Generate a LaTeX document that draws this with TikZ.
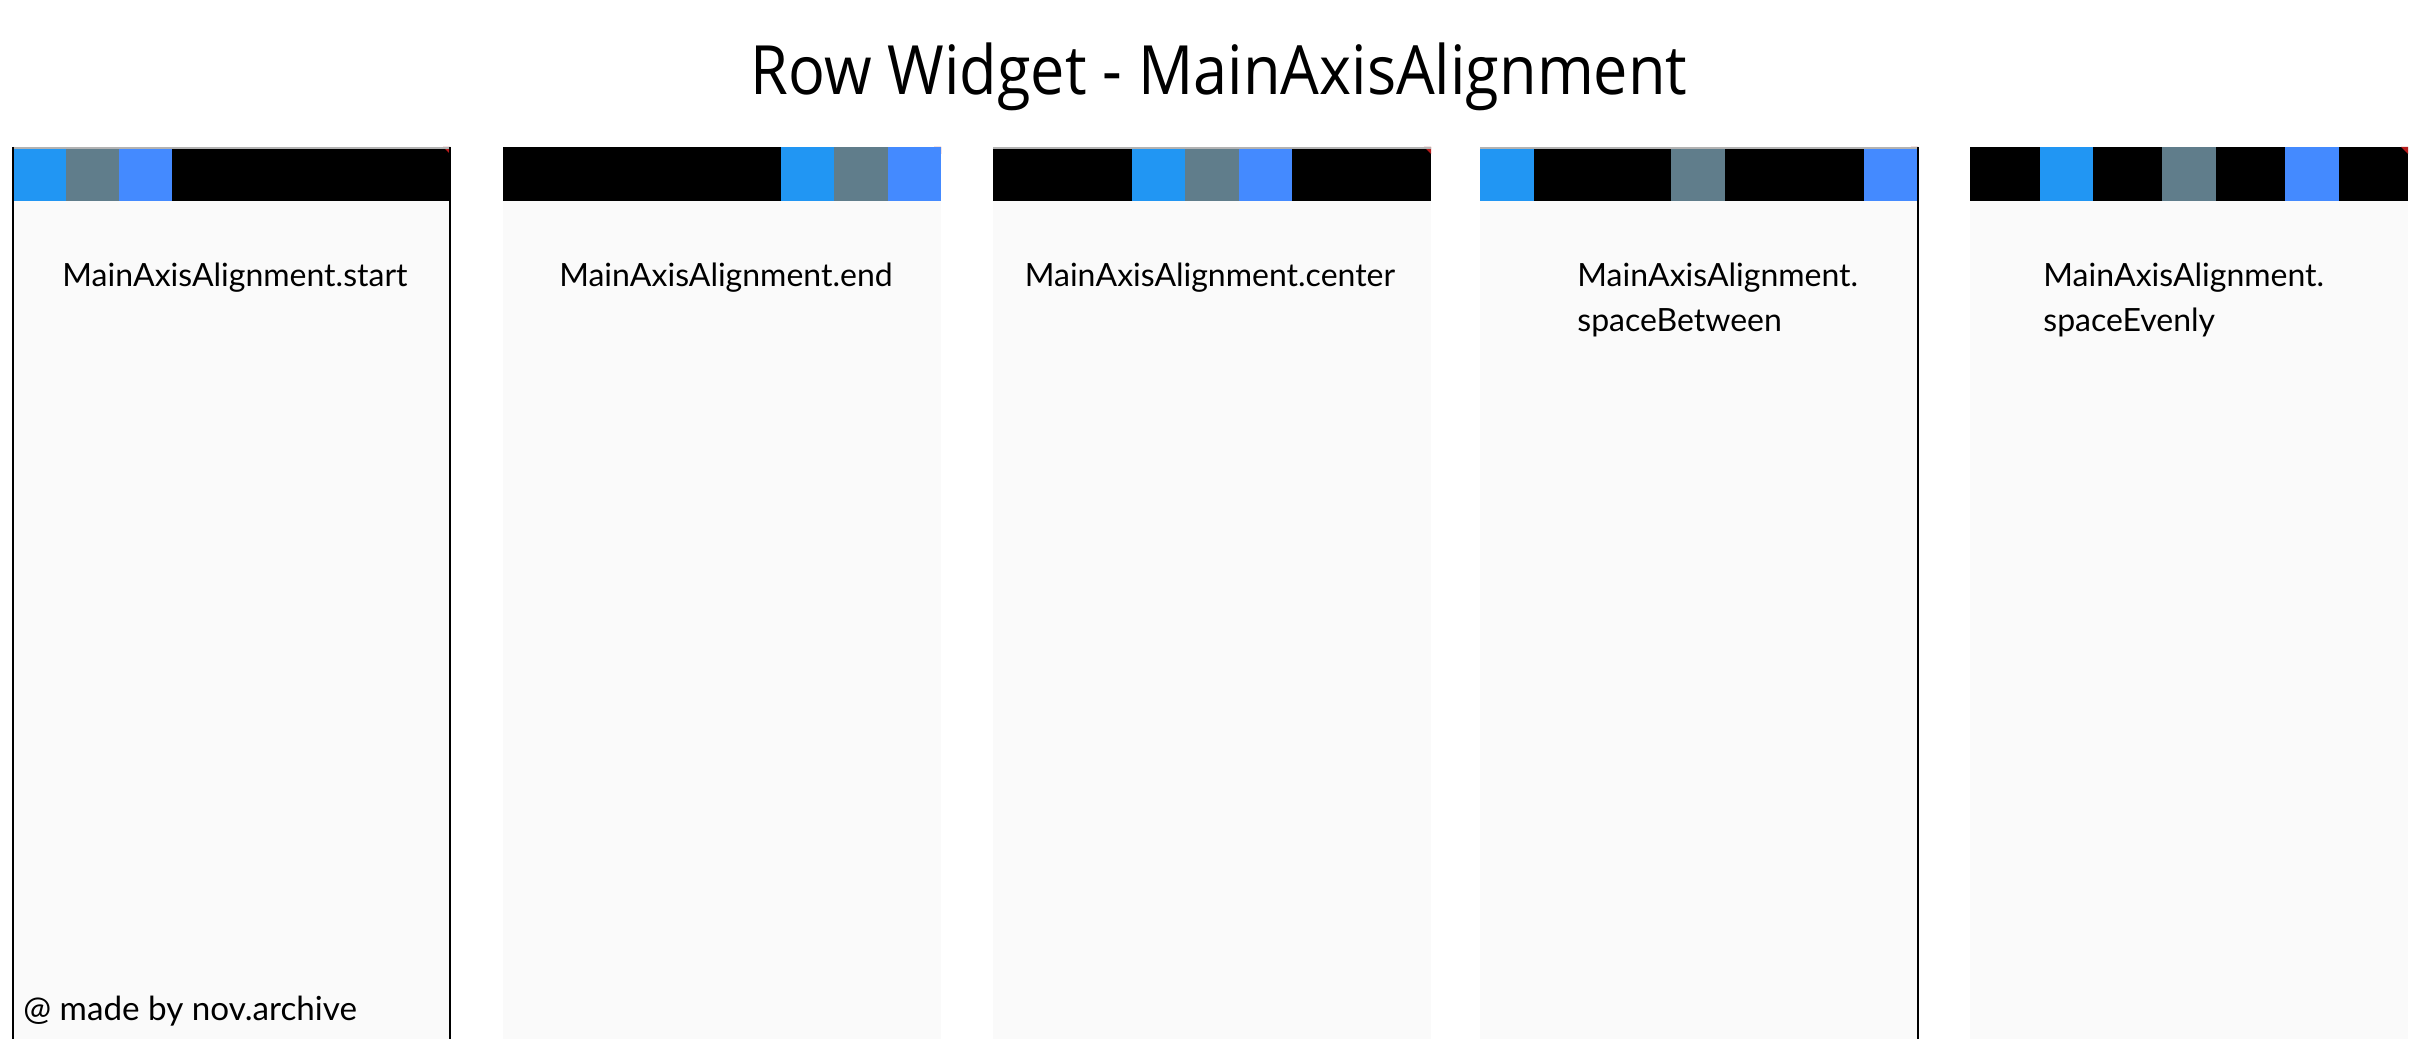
\documentclass[tikz,border=0pt]{standalone}
\usepackage{fontspec}
\setmainfont{Lato}
\newfontfamily\titlefont[FakeStretch=0.9]{Open Sans}
\definecolor{panelbg}{HTML}{FAFAFA}
\definecolor{mblue}{HTML}{2196F3}
\definecolor{mgrey}{HTML}{607D8B}
\definecolor{mblueacc}{HTML}{448AFF}
\definecolor{dbgred}{HTML}{B71C1C}
\tikzset{
  panel/.style={fill=panelbg, draw=none},
  barbox/.style={fill=black, draw=none},
  sqblue/.style={fill=mblue, draw=none},
  sqgrey/.style={fill=mgrey, draw=none},
  sqacc/.style={fill=mblueacc, draw=none},
  edge/.style={draw=black, line width=1pt},
  topline/.style={draw=black!30, line width=1.2pt},
  label/.style={font=\fontsize{16}{22.5}\selectfont, inner sep=0pt, align=left},
}
\begin{document}
\begin{tikzpicture}[x=0.5pt,y=-0.5pt]
\useasboundingbox (0,0) rectangle (2410,1054);
\fill[white] (0,0) rectangle (2410,1054);
\node[font=\titlefont\fontsize{34}{40}\selectfont, inner sep=0pt, anchor=base] (title) at (1219,95) {Row Widget - MainAxisAlignment};
% panels
\foreach \L/\n in {12/p1,503/p2,993/p3,1480/p4,1970/p5}{
  \fill[panel] (\L,147) rectangle ++(438,892);
  \fill[barbox] (\L,147) rectangle ++(438,54);
  \fill[dbgred] (\L+438,147) -- ++(-7,0) -- ++(7,7) -- cycle;
}
% panel 1: start
\fill[sqblue] (12,147) rectangle (66,201);
\fill[sqgrey] (66,147) rectangle (119,201);
\fill[sqacc] (119,147) rectangle (172,201);
% panel 2: end
\fill[sqblue] (781,147) rectangle (834,201);
\fill[sqgrey] (834,147) rectangle (888,201);
\fill[sqacc] (888,147) rectangle (941,201);
% panel 3: center
\fill[sqblue] (1132,147) rectangle (1185,201);
\fill[sqgrey] (1185,147) rectangle (1239,201);
\fill[sqacc] (1239,147) rectangle (1292,201);
% panel 4: spaceBetween
\fill[sqblue] (1480,147) rectangle (1534,201);
\fill[sqgrey] (1671,147) rectangle (1725,201);
\fill[sqacc] (1864,147) rectangle (1918,201);
% panel 5: spaceEvenly
\fill[sqblue] (2040,147) rectangle (2093,201);
\fill[sqgrey] (2162,147) rectangle (2216,201);
\fill[sqacc] (2285,147) rectangle (2339,201);
% top lines and edges
\draw[topline] (12,148) -- (450,148);
\draw[topline] (993,148) -- (1431,148);
\draw[topline] (1480,148) -- (1918,148);
\draw[edge] (12.5,147) -- (12.5,1039);
\draw[edge] (450,147) -- (450,1039);
\draw[edge] (1918,147) -- (1918,1039);
% labels
\node[label] (l1) at (235,278) {MainAxisAlignment.start};
\node[label] (l2) at (726,278) {MainAxisAlignment.end};
\node[label] (l3) at (1210,278) {MainAxisAlignment.center};
\node[label, anchor=north west] (l4) at (1577,263) {MainAxisAlignment.\\spaceBetween};
\node[label, anchor=north west] (l5) at (2043,263) {MainAxisAlignment.\\spaceEvenly};
\node[label, font=\fontsize{16.6}{22.5}\selectfont, anchor=west] (credit) at (23,1011) {@ made by nov.archive};
\end{tikzpicture}
\end{document}
